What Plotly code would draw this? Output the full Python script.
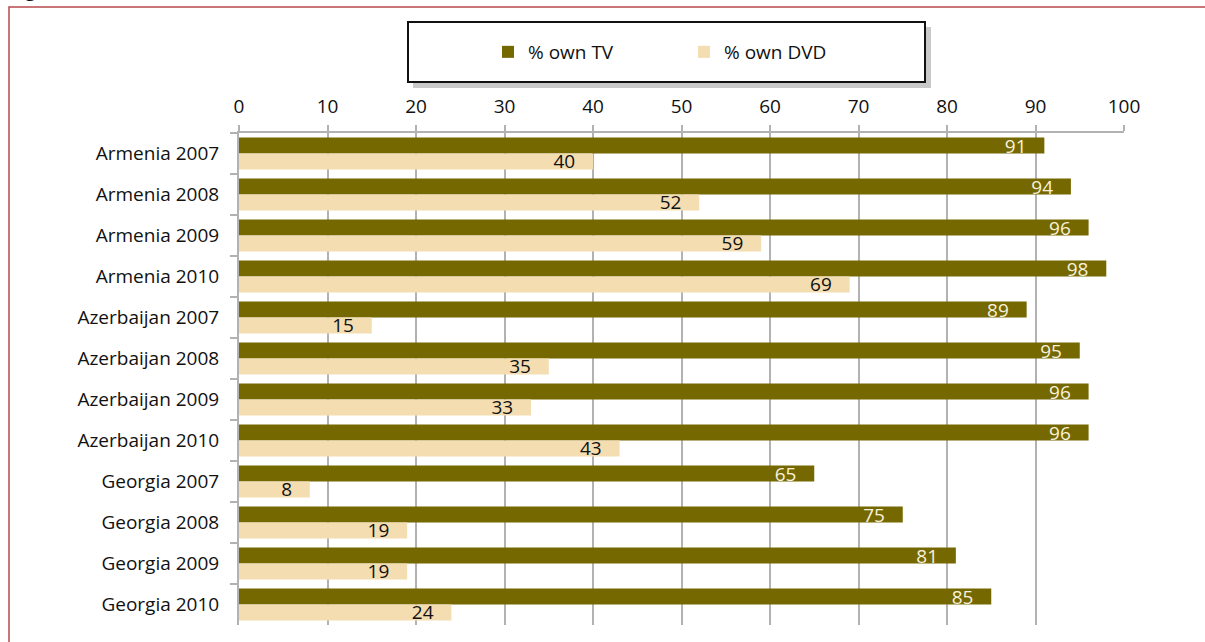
import plotly.graph_objects as go

categories = ["Armenia 2007", "Armenia 2008", "Armenia 2009", "Armenia 2010",
              "Azerbaijan 2007", "Azerbaijan 2008", "Azerbaijan 2009", "Azerbaijan 2010",
              "Georgia 2007", "Georgia 2008", "Georgia 2009", "Georgia 2010"]
own_tv = [91, 94, 96, 98, 89, 95, 96, 96, 65, 75, 81, 85]
own_dvd = [40, 52, 59, 69, 15, 35, 33, 43, 8, 19, 19, 24]
x_ticks = list(range(0, 101, 10))

W, H = 1205, 642
L, R, T, B = 239, 1124, 133, 625

def px(x):
    return (x - L) / (R - L)

def py(y):
    return (B - y) / (B - T)

FONT = "Open Sans"
TV_COLOR = "#756800"
DVD_COLOR = "#f3ddb1"
GRID = "#b2b2b2"
PAD = "\u00a0\u00a0\u00a0"

fig = go.Figure()
fig.add_trace(go.Bar(
    y=categories, x=own_tv, orientation="h", name="% own TV",
    marker=dict(color=TV_COLOR, line=dict(width=0)),
    text=[f"{v}{PAD}" for v in own_tv], textposition="inside",
    insidetextanchor="end", constraintext="none", textangle=0,
    textfont=dict(family=FONT, size=19, color="#f7f1dc"),
    hoverinfo="x+y",
))
fig.add_trace(go.Bar(
    y=categories, x=own_dvd, orientation="h", name="% own DVD",
    marker=dict(color=DVD_COLOR, line=dict(width=0)),
    text=[f"{v}{PAD}" for v in own_dvd], textposition="inside",
    insidetextanchor="end", constraintext="none", textangle=0,
    textfont=dict(family=FONT, size=19, color="#111111"),
    hoverinfo="x+y",
))

shapes = [
    # legend box shadow and box
    dict(type="rect", xref="paper", yref="paper",
         x0=px(413), x1=px(931), y0=py(88), y1=py(27),
         fillcolor="#c9c9c9", line=dict(width=0), layer="above"),
    dict(type="rect", xref="paper", yref="paper",
         x0=px(408), x1=px(925), y0=py(82), y1=py(22),
         fillcolor="white", line=dict(color="#111111", width=2), layer="above"),
    # red frame
    dict(type="path", xref="paper", yref="paper",
         path=f"M {px(9)} {py(660)} L {px(9)} {py(7)} L {px(1220)} {py(7)}",
         line=dict(color="#b84a4c", width=1.5), layer="above"),
]

fig.update_layout(
    width=W, height=H,
    margin=dict(l=L, r=W - R, t=T, b=H - B, autoexpand=False),
    paper_bgcolor="white", plot_bgcolor="white",
    barmode="group", bargap=0.22, bargroupgap=0,
    font=dict(family=FONT, size=19, color="#111111"),
    showlegend=True,
    legend=dict(orientation="h", x=px(684), y=py(52), xanchor="center", yanchor="middle",
                bgcolor="rgba(0,0,0,0)", borderwidth=0,
                font=dict(family=FONT, size=19, color="#111111"),
                entrywidth=151, entrywidthmode="pixels", traceorder="normal"),
    xaxis=dict(side="top", range=[0, 100], tickvals=x_ticks,
               showgrid=True, gridcolor=GRID, gridwidth=2,
               showline=True, linecolor=GRID, linewidth=2,
               ticks="outside", ticklen=6, tickwidth=2, tickcolor=GRID,
               ticklabelstandoff=4,
               zeroline=False, tickfont=dict(family=FONT, size=19, color="#111111"),
               fixedrange=True),
    yaxis=dict(autorange="reversed", type="category", tickson="boundaries",
               showgrid=False, showline=True, linecolor=GRID, linewidth=2,
               ticks="outside", ticklen=7, tickwidth=2, tickcolor=GRID,
               ticklabelstandoff=14,
               tickfont=dict(family=FONT, size=19, color="#111111"),
               fixedrange=True),
    shapes=shapes,
    annotations=[dict(text="<b>Figure</b>", xref="paper", yref="paper",
                      x=px(8), y=py(4), xanchor="left", yanchor="bottom",
                      showarrow=False, font=dict(family=FONT, size=18, color="#111111"))],
)

fig.write_html("out.html", config={"displayModeBar": False},
               post_script="document.body.style.margin='0';document.body.style.overflow='hidden';")
